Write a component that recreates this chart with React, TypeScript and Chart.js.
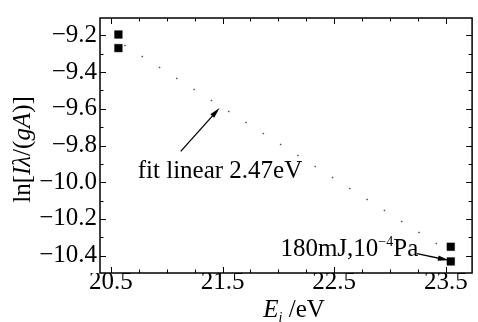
import { useEffect, useRef } from 'react';
import { Chart, registerables } from 'chart.js';
Chart.register(...registerables);

// measured data (E in eV, ln[Iλ/(gA)])
const pointE = [20.567, 20.567, 23.544, 23.544];
const pointLn = [-9.195, -9.269, -10.352, -10.432];
// linear fit (slope -> 2.47 eV)
const fitE = [20.62, 23.48];
const fitLn = [-9.253, -10.36];

const xTickValues = [20.5, 20.75, 21, 21.25, 21.5, 21.75, 22, 22.25, 22.5, 22.75, 23, 23.25, 23.5];
const xMajorValues = [20.5, 21.5, 22.5, 23.5];
const xTickLabels = ['20.5', '21.5', '22.5', '23.5'];
const yTickValues = [-10.4, -10.3, -10.2, -10.1, -10.0, -9.9, -9.8, -9.7, -9.6, -9.5, -9.4, -9.3, -9.2];
const yMajorValues = [-10.4, -10.2, -10.0, -9.8, -9.6, -9.4, -9.2];
const yTickLabels = ['−10.4', '−10.2', '−10.0', '−9.8', '−9.6', '−9.4', '−9.2'];

const xRange = [20.402, 23.735];
const yRange = [-10.495, -9.105];

// annotations (data coordinates)
const fitText = 'fit linear 2.47eV';
const fitTextAt = [20.74, -9.978];
const fitArrowFrom = [21.125, -9.832];
const fitArrowTo = [21.473, -9.595];
const condText = ['180mJ,10', '−4', 'Pa'];
const condTextAt = [22.018, -10.405];
const condArrowFrom = [23.241, -10.39];
const condArrowTo = [23.527, -10.426];

const FONT = "'Liberation Serif', 'Times New Roman', serif";
const FS = 25;

Chart.defaults.font.family = FONT;
Chart.defaults.font.size = FS;
Chart.defaults.color = '#000';

const near = (a: number, b: number) => Math.abs(a - b) < 1e-6;

function drawArrow(ctx: CanvasRenderingContext2D, x1: number, y1: number, x2: number, y2: number) {
  const ang = Math.atan2(y2 - y1, x2 - x1);
  const len = 11, hw = 2.6;
  ctx.beginPath();
  ctx.moveTo(x1, y1);
  ctx.lineTo(x2 - Math.cos(ang) * len * 0.6, y2 - Math.sin(ang) * len * 0.6);
  ctx.stroke();
  ctx.beginPath();
  ctx.moveTo(x2, y2);
  ctx.lineTo(x2 - Math.cos(ang) * len - Math.sin(ang) * hw, y2 - Math.sin(ang) * len + Math.cos(ang) * hw);
  ctx.lineTo(x2 - Math.cos(ang) * len + Math.sin(ang) * hw, y2 - Math.sin(ang) * len - Math.cos(ang) * hw);
  ctx.closePath();
  ctx.fill();
}

const decorPlugin = {
  id: 'decor',
  afterDraw(chart: any) {
    const { ctx, chartArea: a, scales } = chart;
    const xs = scales.x, ys = scales.y;
    ctx.save();
    ctx.strokeStyle = '#000';
    ctx.fillStyle = '#000';
    ctx.lineWidth = 1.5;
    ctx.strokeRect(a.left, a.top, a.right - a.left, a.bottom - a.top);
    ctx.lineWidth = 1;
    const seg = (x1: number, y1: number, x2: number, y2: number) => {
      ctx.beginPath(); ctx.moveTo(x1, y1); ctx.lineTo(x2, y2); ctx.stroke();
    };
    xTickValues.forEach((v) => {
      const px = Math.round(xs.getPixelForValue(v)) + 0.5;
      const len = xMajorValues.some((m) => near(m, v)) ? 6 : 3.5;
      seg(px, a.bottom, px, a.bottom - len);
      seg(px, a.top, px, a.top + len);
    });
    yTickValues.forEach((v) => {
      const py = Math.round(ys.getPixelForValue(v)) + 0.5;
      const len = yMajorValues.some((m) => near(m, v)) ? 6 : 3.5;
      seg(a.left, py, a.left + len, py);
      seg(a.right, py, a.right - len, py);
    });

    // annotations
    ctx.textBaseline = 'alphabetic';
    ctx.textAlign = 'left';
    ctx.font = `${FS}px ${FONT}`;
    ctx.fillText(fitText, xs.getPixelForValue(fitTextAt[0]), ys.getPixelForValue(fitTextAt[1]));
    ctx.lineWidth = 1.3;
    drawArrow(ctx, xs.getPixelForValue(fitArrowFrom[0]), ys.getPixelForValue(fitArrowFrom[1]),
      xs.getPixelForValue(fitArrowTo[0]), ys.getPixelForValue(fitArrowTo[1]));

    let cx = xs.getPixelForValue(condTextAt[0]);
    const cy = ys.getPixelForValue(condTextAt[1]);
    ctx.font = `${FS}px ${FONT}`;
    ctx.fillText(condText[0], cx, cy);
    cx += ctx.measureText(condText[0]).width;
    ctx.font = `14px ${FONT}`;
    ctx.fillText(condText[1], cx, cy - 10);
    cx += ctx.measureText(condText[1]).width;
    ctx.font = `${FS}px ${FONT}`;
    ctx.fillText(condText[2], cx, cy);
    drawArrow(ctx, xs.getPixelForValue(condArrowFrom[0]), ys.getPixelForValue(condArrowFrom[1]),
      xs.getPixelForValue(condArrowTo[0]), ys.getPixelForValue(condArrowTo[1]));

    // y axis title: ln[Iλ/(gA)]
    const ySegs: [string, string][] = [['ln[', ''], ['Iλ', 'italic '], ['/(', ''], ['gA', 'italic '], [')]', '']];
    let total = 0;
    ySegs.forEach(([t, s]) => { ctx.font = `${s}${FS}px ${FONT}`; total += ctx.measureText(t).width; });
    ctx.save();
    ctx.translate(30, (a.top + a.bottom) / 2 + 4);
    ctx.rotate(-Math.PI / 2);
    let tx = -total / 2;
    ySegs.forEach(([t, s]) => {
      ctx.font = `${s}${FS}px ${FONT}`;
      ctx.fillText(t, tx, 0);
      tx += ctx.measureText(t).width;
    });
    ctx.restore();

    // x axis title: E_i /eV
    const xSegs: [string, string, number, number][] = [['E', 'italic ', FS, 0], ['i', 'italic ', 14, 5], [' /eV', '', FS, 0]];
    total = 0;
    xSegs.forEach(([t, s, f]) => { ctx.font = `${s}${f}px ${FONT}`; total += ctx.measureText(t).width; });
    let ex = (a.left + a.right) / 2 + 8 - total / 2;
    const ey = 317;
    xSegs.forEach(([t, s, f, dy]) => {
      ctx.font = `${s}${f}px ${FONT}`;
      ctx.fillText(t, ex, ey + dy);
      ex += ctx.measureText(t).width;
    });
    ctx.restore();
  },
};

export default function App() {
  const ref = useRef<HTMLCanvasElement | null>(null);
  useEffect(() => {
    if (!ref.current) return;
    const chart = new Chart(ref.current, {
      type: 'scatter',
      data: {
        datasets: [
          {
            label: 'fit',
            data: fitE.map((x, i) => ({ x, y: fitLn[i] })),
            showLine: true,
            borderColor: '#555',
            borderWidth: 1.5,
            borderDash: [1.5, 19],
            pointRadius: 0,
            fill: false,
          },
          {
            label: 'data',
            data: pointE.map((x, i) => ({ x, y: pointLn[i] })),
            pointStyle: 'rect',
            pointRadius: 5.4,
            backgroundColor: '#000',
            borderColor: '#000',
            borderWidth: 0.5,
          },
        ],
      },
      options: {
        responsive: false,
        animation: false,
        devicePixelRatio: 1,
        font: { family: FONT, size: FS },
        layout: { padding: { top: 10, right: 4, left: 0, bottom: 0 } },
        plugins: { legend: { display: false }, tooltip: { enabled: false } },
        scales: {
          x: {
            type: 'linear',
            min: xRange[0],
            max: xRange[1],
            grid: { display: false, drawTicks: false },
            border: { display: false },
            afterBuildTicks: (s: any) => { s.ticks = xTickValues.map((value) => ({ value })); },
            afterFit: (s: any) => { s.height = 49; },
            ticks: {
              autoSkip: false,
              maxRotation: 0,
              padding: -6,
              color: '#000',
              font: { family: FONT, size: FS },
              callback: (v: any) => {
                const i = xMajorValues.findIndex((m) => near(m, Number(v)));
                return i >= 0 ? xTickLabels[i] : '';
              },
            },
          },
          y: {
            type: 'linear',
            min: yRange[0],
            max: yRange[1],
            grid: { display: false, drawTicks: false },
            border: { display: false },
            afterBuildTicks: (s: any) => { s.ticks = yTickValues.map((value) => ({ value })); },
            afterFit: (s: any) => { s.width = 100; },
            ticks: {
              autoSkip: false,
              padding: 3,
              color: '#000',
              font: { family: FONT, size: FS },
              callback: (v: any) => {
                const i = yMajorValues.findIndex((m) => near(m, Number(v)));
                return i >= 0 ? yTickLabels[i] : '';
              },
            },
          },
        },
      },
      plugins: [decorPlugin],
    } as any);
    return () => chart.destroy();
  }, []);
  return (
    <div style={{ position: 'absolute', left: 0, top: 0, width: 478, height: 322, background: '#fff' }}>
      <canvas ref={ref} width={478} height={322} style={{ display: 'block' }} />
    </div>
  );
}
